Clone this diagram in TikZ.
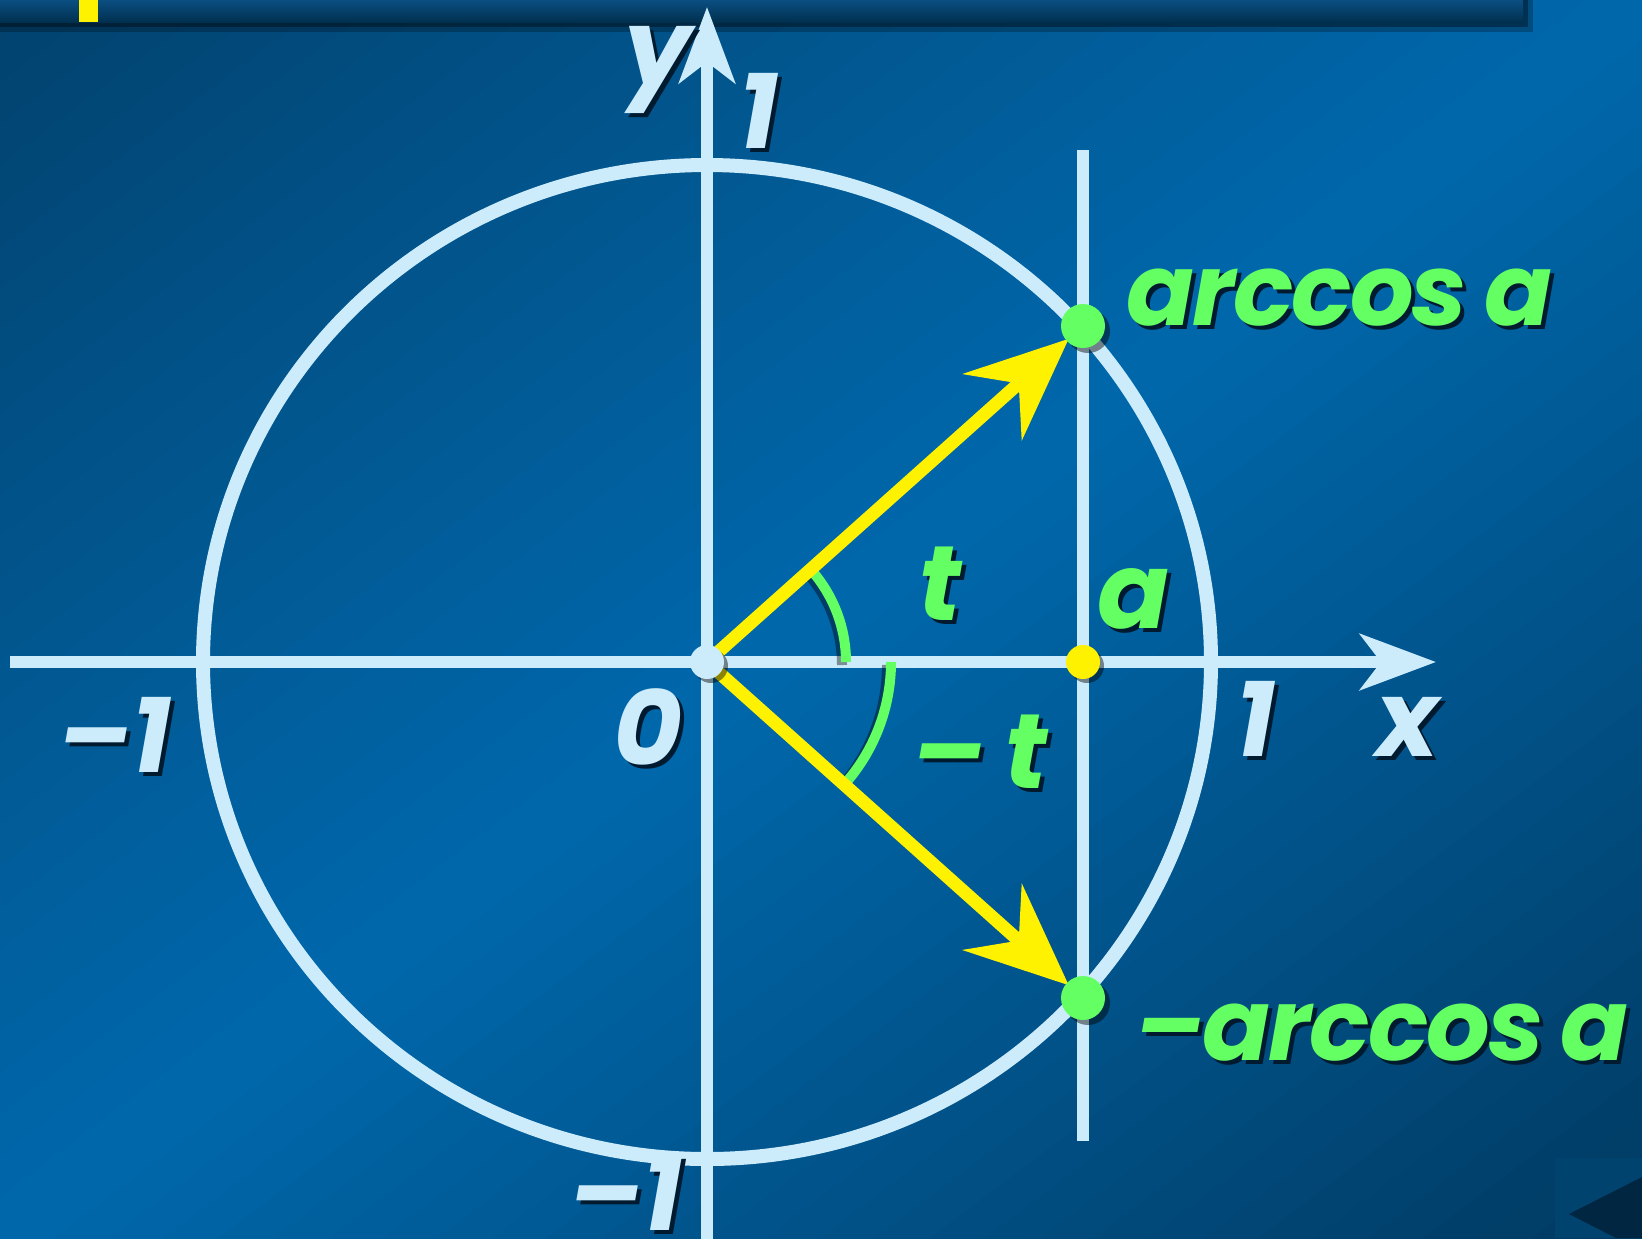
\documentclass[tikz,border=0pt]{standalone}
\usepackage{fontspec}
\setmainfont{Poppins}
\usetikzlibrary{arrows.meta,calc}
\definecolor{lblue}{HTML}{CCEBFB}
\definecolor{lgreen}{HTML}{63FF63}
\definecolor{bgdark}{HTML}{02426E}
\definecolor{bgmid}{HTML}{0068AC}
\definecolor{bgdark2}{HTML}{013A62}
\definecolor{bartop}{HTML}{0A4E82}
\definecolor{barbot}{HTML}{01304F}
\definecolor{btnfill}{HTML}{01436F}
\definecolor{btntri}{HTML}{012642}
\definecolor{shc}{HTML}{001A30}
\newcommand\shtext[1]{\makebox[0pt][l]{\kern2pt\raisebox{-2pt}{\color{shc}#1}}#1}
\begin{document}
\begin{tikzpicture}[x=0.5pt,y=-0.5pt,
  lbl/.style={font=\fontsize{53}{60}\selectfont\bfseries\itshape, inner sep=0pt},
  arclbl/.style={font=\fontsize{50}{60}\selectfont\bfseries\itshape\addfontfeatures{LetterSpace=-2}, inner sep=0pt},
  axisline/.style={draw=lblue, line width=6pt},
  axtip/.style={-{Stealth[length=38pt,width=28pt,inset=10.5pt]}},
  vecline/.style={draw=yellow, line width=6.5pt, -{Stealth[length=51pt,width=44pt,inset=17.5pt]}},
  anglearc/.style={draw=lgreen, line width=5pt},
  arcshadow/.style={draw=black, opacity=0.4, line width=5pt},
  dotshadow/.style={fill=black, opacity=0.45}]
\useasboundingbox (0,0) rectangle (1642,1238);
% background: diagonal gradient dark - bright - dark
\begin{scope}
\clip (0,0) rectangle (1642,1238);
\foreach \i in {0,...,59} {
  \pgfmathsetmacro\ua{54.7333*\i}
  \pgfmathsetmacro\ub{54.7333*(\i+1.4)}
  \pgfmathsetmacro\um{(\i+0.5)/60}
  \ifdim\um pt<0.5pt
    \pgfmathsetmacro\pc{100*(1-2*\um)}
    \fill[bgdark!\pc!bgmid] (\ua+1642,-1238) -- (\ua-3284,2476) -- (\ub-3284,2476) -- (\ub+1642,-1238) -- cycle;
  \else
    \pgfmathsetmacro\pc{100*(2*\um-1)}
    \fill[bgdark2!\pc!bgmid] (\ua+1642,-1238) -- (\ua-3284,2476) -- (\ub-3284,2476) -- (\ub+1642,-1238) -- cycle;
  \fi
}
\end{scope}
% top bar with shadow
\fill[black, opacity=0.25] (0,0) rectangle (1533,32);
\fill[black, opacity=0.35] (0,0) rectangle (1528,27);
\shade[top color=bartop, bottom color=barbot] (0,0) rectangle (1523,22);
\fill[yellow] (79,0) rectangle (98,22);
% bottom-right button
\fill[btnfill] (1555,1158) rectangle (1642,1238);
\fill[btntri] (1569,1214) -- (1642,1177) -- (1642,1238) -- (1616,1238) -- cycle;
% coordinates
\coordinate (O) at (707,662);
\coordinate (P) at (1083,326);
\coordinate (Q) at (1083,998);
\coordinate (A) at (1083,662);
\coordinate (xs) at (10,662);
\coordinate (xe) at (1436,662);
\coordinate (ys) at (707,1240);
\coordinate (ye) at (707,7);
\coordinate (ls) at (1083,150);
\coordinate (le) at (1083,1141);
\coordinate (TP) at ($(O)!0.962!(P)$);
\coordinate (TQ) at ($(O)!0.962!(Q)$);
% axes
\draw[axisline, axtip] (xs) -- (xe);
\draw[axisline, axtip] (ys) -- (ye);
\draw[axisline] (ls) -- (le);
% unit circle
\draw[draw=lblue, line width=7pt] (O) ellipse [x radius=504, y radius=497];
% angle arcs
\draw[arcshadow] ($(O)+(135,3)$) arc[start angle=0, end angle=-41.8, radius=139];
\draw[arcshadow] ($(O)+(180,3)$) arc[start angle=0, end angle=41.8, radius=184];
\draw[anglearc] ($(O)+(139,0)$) arc[start angle=0, end angle=-41.8, radius=139];
\draw[anglearc] ($(O)+(184,0)$) arc[start angle=0, end angle=41.8, radius=184];
% vectors
\draw[vecline] (O) -- (TP);
\draw[vecline] (O) -- (TQ);
% dots
\fill[dotshadow] ($(O)+(4,4)$) circle[radius=17];
\fill[lblue] (O) circle[radius=17];
\fill[dotshadow] ($(A)+(4,4)$) circle[radius=17];
\fill[yellow] (A) circle[radius=17];
\fill[dotshadow] ($(P)+(5,5)$) circle[radius=22];
\fill[lgreen] (P) circle[radius=22];
\fill[dotshadow] ($(Q)+(5,5)$) circle[radius=22];
\fill[lgreen] (Q) circle[radius=22];
% labels
\node[lbl, anchor=base, text=lblue] (ly) at (658,85) {\shtext{y}};
\node[lbl, anchor=base, text=lblue] (l1top) at (758,148) {\shtext{1}};
\node[lbl, anchor=base, text=lblue] (lm1left) at (115,772) {\shtext{–1}};
\node[lbl, anchor=base, text=lblue] (l0) at (648,765) {\shtext{0}};
\node[lbl, anchor=base, text=lblue] (l1right) at (1255,756) {\shtext{1}};
\node[lbl, anchor=base, text=lblue] (lx) at (1408,756) {\shtext{x}};
\node[lbl, anchor=base, text=lblue] (lm1bot) at (626,1230) {\shtext{–1}};
\node[lbl, anchor=base, text=lgreen] (lt) at (940,620) {\shtext{t}};
\node[lbl, anchor=base, text=lgreen] (la) at (1133,628) {\shtext{a}};
\node[lbl, anchor=base, text=lgreen] (lmt) at (980,788) {\shtext{–\,t}};
\node[arclbl, anchor=base west, text=lgreen] (larc) at (1126,325) {\shtext{arccos\,a}};
\node[arclbl, anchor=base west, text=lgreen] (lmarc) at (1135,1060) {\shtext{–arccos\,a}};
\end{tikzpicture}
\end{document}
